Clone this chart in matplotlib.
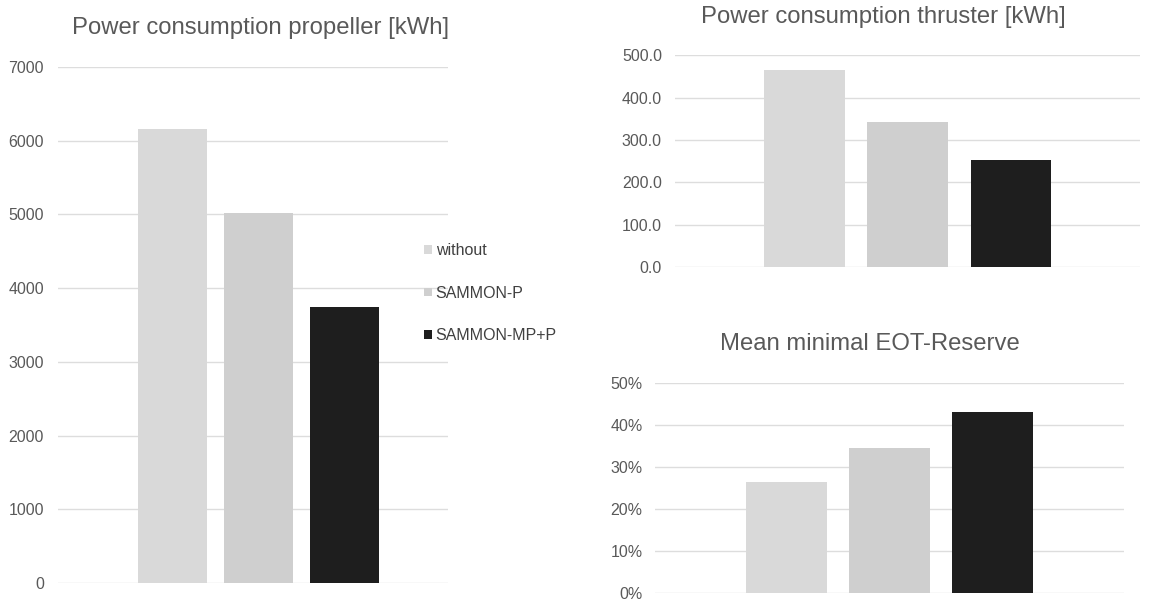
import numpy as np
import matplotlib.pyplot as plt
from matplotlib.ticker import FuncFormatter

plt.rcParams['font.family'] = ['Liberation Sans', 'DejaVu Sans']

series = ['without', 'SAMMON-P', 'SAMMON-MP+P']
cores = ['#d9d9d9', '#cfcfcf', '#1e1e1e']

propeller = [6160, 5020, 3750]
thruster = [465.0, 343.0, 252.0]
reserva = [0.264, 0.345, 0.431]

cinza = '#595959'
grade = '#dddddd'


def prepara_eixo(ax, valores, ymax, passo, fmt, xlim, largura, pad):
    x = np.arange(len(valores))
    barras = ax.bar(x, valores, width=largura, color=cores, zorder=2)
    ax.set_xlim(*xlim)
    ax.set_ylim(0, ymax)
    ax.set_yticks(np.arange(0, ymax + passo / 2, passo))
    ax.yaxis.set_major_formatter(FuncFormatter(fmt))
    ax.set_xticks([])
    ax.grid(axis='y', color=grade, lw=1, zorder=0)
    for s in ax.spines.values():
        s.set_visible(False)
    ax.tick_params(axis='y', length=0, pad=pad, labelsize=11.5, labelcolor=cinza)
    return barras


fig = plt.figure(figsize=(11.62, 6.03), dpi=100)

ax1 = fig.add_axes([0.0499, 0.0332, 0.3356, 0.8557])
barras = prepara_eixo(ax1, propeller, 7000, 1000, lambda v, p: f'{v:.0f}',
                      (-1.33, 3.2), 0.8, 10)

ax2 = fig.add_axes([0.581, 0.557, 0.400, 0.3516])
prepara_eixo(ax2, thruster, 500, 100, lambda v, p: f'{v:.1f}',
             (-1.25, 3.25), 0.78, 9.5)

ax3 = fig.add_axes([0.5637, 0.0166, 0.4036, 0.348])
prepara_eixo(ax3, reserva, 0.5, 0.1, lambda v, p: f'{v * 100:.0f}%',
             (-1.28, 3.28), 0.79, 9)

fig.text(261 / 1162, 1 - 28 / 603, 'Power consumption propeller [kWh]',
         ha='center', va='center', fontsize=17.2, color=cinza)
fig.text(883 / 1162, 1 - 17 / 603, 'Power consumption thruster [kWh]',
         ha='center', va='center', fontsize=17.2, color=cinza)
fig.text(870 / 1162, 1 - 344 / 603, 'Mean minimal EOT-Reserve',
         ha='center', va='center', fontsize=17.2, color=cinza)

leg = fig.legend(barras, series, loc='center left',
                 bbox_to_anchor=(418 / 1162, 1 - 293 / 603),
                 frameon=False, fontsize=11.5, handlelength=0.45,
                 handleheight=0.45, handletextpad=0.25, labelspacing=1.72,
                 borderaxespad=0)
for t in leg.get_texts():
    t.set_color('#404040')

fig.savefig('out.png', dpi=100, facecolor='white')
